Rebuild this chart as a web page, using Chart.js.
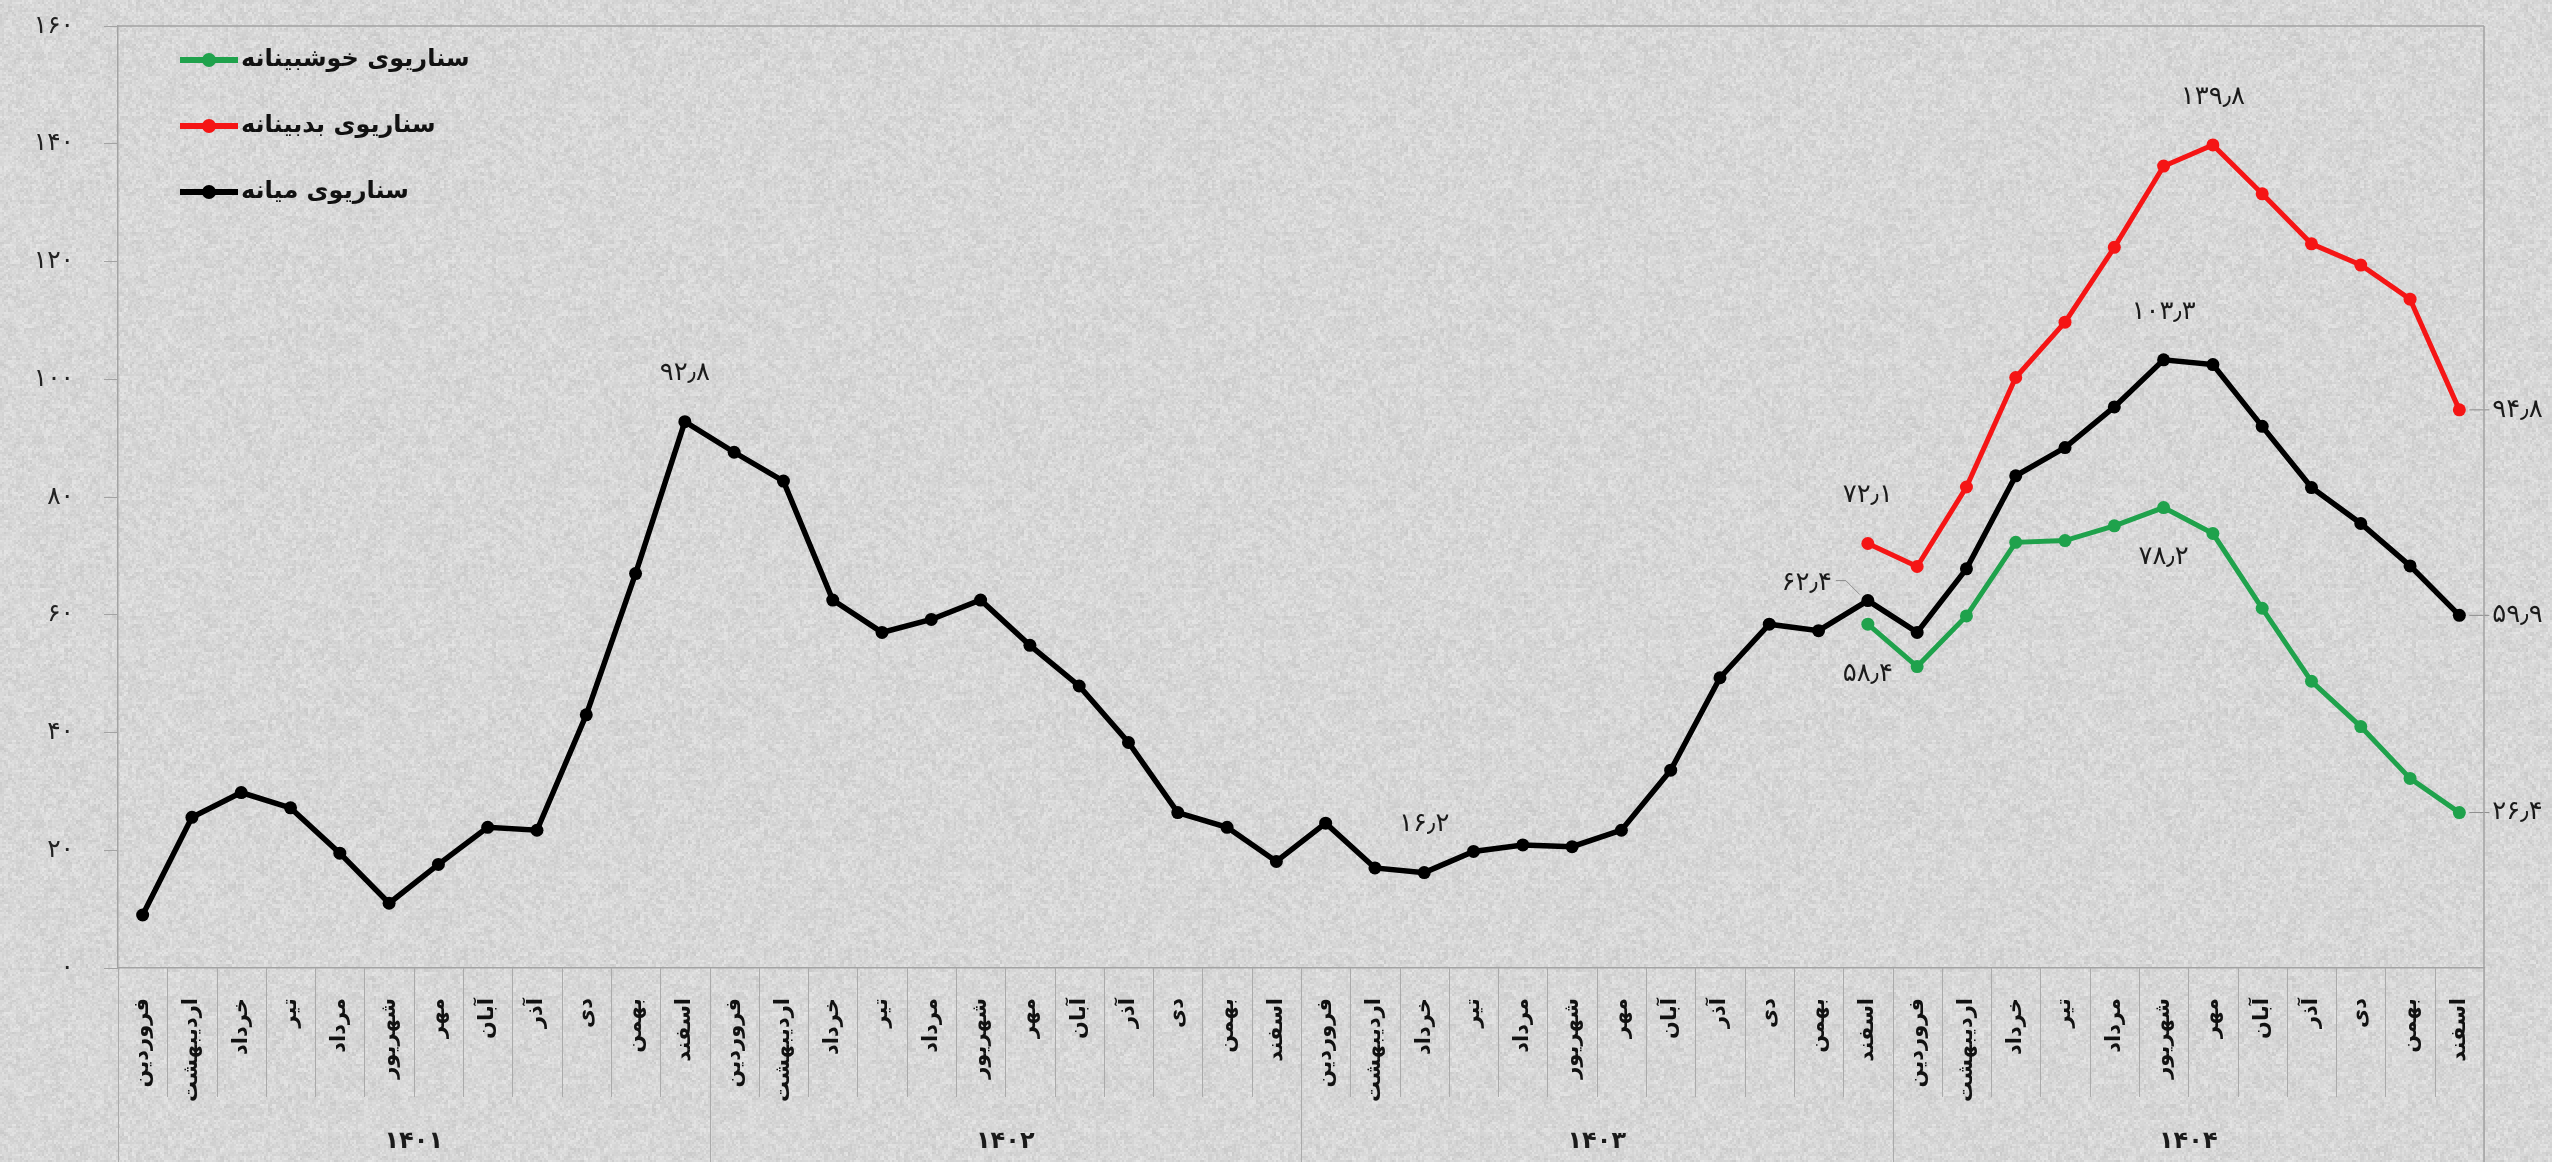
<!DOCTYPE html>
<html><head><meta charset="utf-8">
<style>html,body{margin:0;padding:0;background:#d6d6d6;overflow:hidden}
#wrap{width:2552px;height:1162px;position:relative}</style>
<script src="https://cdn.jsdelivr.net/npm/chart.js@4.4.1/dist/chart.umd.min.js"></script>
</head><body><div id="wrap"><canvas id="c" width="2552" height="1162"></canvas></div>
<script>
// ---------- data ----------
const months = ['فروردین','اردیبهشت','خرداد','تیر','مرداد','شهریور','مهر','آبان','آذر','دی','بهمن','اسفند'];
const years = ['۱۴۰۱','۱۴۰۲','۱۴۰۳','۱۴۰۴'];
const categories = years.flatMap(() => months);
const seriesNames = ['سناریوی خوشبینانه','سناریوی بدبینانه','سناریوی میانه'];
const yTickStep = 20, yMin = 0, yMax = 160;

const median = [9.0, 25.6, 29.8, 27.2, 19.5, 11.0, 17.6, 23.9, 23.4, 43.0, 67.0, 92.8,
  87.6, 82.7, 62.5, 57.0, 59.2, 62.5, 54.8, 47.9, 38.3, 26.4, 23.9, 18.1,
  24.6, 17.0, 16.2, 19.8, 20.9, 20.6, 23.4, 33.6, 49.3, 58.4, 57.3, 62.4,
  57.0, 67.8, 83.6, 88.4, 95.3, 103.3, 102.5, 92.0, 81.6, 75.5, 68.3, 59.9];
const optimistic = [null,null,null,null,null,null,null,null,null,null,null,null,
  null,null,null,null,null,null,null,null,null,null,null,null,
  null,null,null,null,null,null,null,null,null,null,null,58.4,
  51.2, 59.8, 72.3, 72.6, 75.1, 78.2, 73.8, 61.1, 48.7, 41.0, 32.2, 26.4];
const pessimistic = [null,null,null,null,null,null,null,null,null,null,null,null,
  null,null,null,null,null,null,null,null,null,null,null,null,
  null,null,null,null,null,null,null,null,null,null,null,72.1,
  68.2, 81.7, 100.3, 109.7, 122.4, 136.2, 139.8, 131.5, 123.0, 119.4, 113.6, 94.8];

// which points carry a value label (dataset index, point index, placement)
const callouts = [
  {ds:2, i:11, pos:'above'}, {ds:2, i:26, pos:'above'}, {ds:2, i:35, pos:'left'},
  {ds:0, i:35, pos:'below'}, {ds:1, i:35, pos:'above'}, {ds:1, i:42, pos:'above'},
  {ds:2, i:41, pos:'above'}, {ds:0, i:41, pos:'below'},
  {ds:1, i:47, pos:'right'}, {ds:2, i:47, pos:'right'}, {ds:0, i:47, pos:'right'}
];

// ---------- helpers ----------
const FA = '۰۱۲۳۴۵۶۷۸۹';
function fa(v, dec){
  const s = dec ? Number(v).toFixed(dec) : String(v);
  return s.replace(/\d/g, d => FA[d]).replace('.', '٫');
}
const FONT = 'DejaVu Sans';
Chart.defaults.font.family = FONT;

function makeTexture(){
  const t = document.createElement('canvas');
  t.width = 384; t.height = 384;
  const g = t.getContext('2d');
  const img = g.createImageData(384, 384);
  function h(a,b){ const x = Math.sin(a*127.1 + b*311.7)*43758.5453; return x - Math.floor(x); }
  for (let y=0; y<384; y++) for (let x=0; x<384; x++){
    const n = 0.55*h(x>>1, y>>1) + 0.45*h((x>>2)+97, (y>>2)+13);
    const v = Math.round(200 + n*30);
    const k = (y*384+x)*4;
    img.data[k]=v; img.data[k+1]=v; img.data[k+2]=v; img.data[k+3]=255;
  }
  g.putImageData(img,0,0);
  return t;
}
const texture = makeTexture();

const bgPlugin = {
  id:'bg',
  beforeDraw(chart){
    const ctx = chart.ctx;
    ctx.save();
    ctx.fillStyle = ctx.createPattern(texture, 'repeat');
    ctx.fillRect(0,0,chart.width,chart.height);
    ctx.restore();
  }
};

const framePlugin = {
  id:'frame',
  afterDraw(chart){
    const ctx = chart.ctx, a = chart.chartArea;
    const n = categories.length, w = (a.right - a.left)/n;
    ctx.save();
    ctx.strokeStyle = '#a3a3a3'; ctx.lineWidth = 1.5;
    ctx.beginPath();
    ctx.moveTo(a.left, a.top); ctx.lineTo(a.right, a.top);
    ctx.moveTo(a.right, a.top); ctx.lineTo(a.right, chart.height);
    ctx.stroke();
    ctx.lineWidth = 1;
    ctx.strokeStyle = '#aaaaaa';
    for (let k=0; k<=n; k++){
      const x = Math.round(a.left + k*w) + 0.5;
      ctx.beginPath();
      ctx.moveTo(x, a.bottom);
      ctx.lineTo(x, k % 12 === 0 ? chart.height : a.bottom + 129);
      ctx.stroke();
    }
    ctx.fillStyle = '#1a1a1a';
    ctx.font = 'bold 24px "' + FONT + '"';
    ctx.textAlign = 'center'; ctx.textBaseline = 'middle';
    years.forEach((yr, j) => {
      const x = a.left + (j*12 + 6)*w;
      ctx.fillText(yr, x, 1142);
    });
    ctx.restore();
  }
};

const legendPlugin = {
  id:'customLegend',
  afterDraw(chart){
    const ctx = chart.ctx;
    ctx.save();
    chart.data.datasets.forEach((ds, j) => {
      const y = 60 + j*66;
      ctx.strokeStyle = ds.borderColor; ctx.lineWidth = 6;
      ctx.beginPath(); ctx.moveTo(180, y); ctx.lineTo(238, y); ctx.stroke();
      ctx.fillStyle = ds.borderColor;
      ctx.beginPath(); ctx.arc(209, y, 7, 0, Math.PI*2); ctx.fill();
      ctx.fillStyle = '#111';
      ctx.font = 'bold 24px "' + FONT + '"';
      ctx.textAlign = 'left'; ctx.textBaseline = 'middle';
      ctx.fillText(ds.label, 241, y);
    });
    ctx.restore();
  }
};

const calloutPlugin = {
  id:'callouts',
  afterDatasetsDraw(chart){
    const ctx = chart.ctx;
    ctx.save();
    ctx.font = '26px "' + FONT + '"';
    ctx.fillStyle = '#1a1a1a';
    ctx.textBaseline = 'middle';
    callouts.forEach(c => {
      const pt = chart.getDatasetMeta(c.ds).data[c.i];
      const v = chart.data.datasets[c.ds].data[c.i];
      const txt = fa(v, 1);
      let x = pt.x, y = pt.y;
      ctx.strokeStyle = '#8a8a8a'; ctx.lineWidth = 1;
      if (c.pos === 'above'){ ctx.textAlign='center'; ctx.fillText(txt, x, y - 48); }
      else if (c.pos === 'below'){ ctx.textAlign='center'; ctx.fillText(txt, x, y + 50); }
      else if (c.pos === 'right'){
        ctx.beginPath(); ctx.moveTo(x + 10, y); ctx.lineTo(x + 30, y); ctx.stroke();
        ctx.textAlign='left'; ctx.fillText(txt, x + 33, y);
      } else if (c.pos === 'left'){
        ctx.beginPath(); ctx.moveTo(x - 8, y - 6); ctx.lineTo(x - 22, y - 20); ctx.lineTo(x - 32, y - 20); ctx.stroke();
        ctx.textAlign='right'; ctx.fillText(txt, x - 36, y - 17);
      }
    });
    ctx.restore();
  }
};

const colors = {green:'#1fa24c', red:'#f51515', black:'#000000'};
function ds(label, data, color, width){
  return {label, data, borderColor:color, backgroundColor:color, borderWidth:width,
    pointRadius:6.5, pointHoverRadius:6.5, pointBackgroundColor:color, pointBorderColor:color,
    pointBorderWidth:0, tension:0, spanGaps:false};
}

new Chart(document.getElementById('c'), {
  type:'line',
  data:{
    labels: categories,
    datasets:[
      ds(seriesNames[0], optimistic, colors.green, 5),
      ds(seriesNames[1], pessimistic, colors.red, 5),
      ds(seriesNames[2], median, colors.black, 5.5)
    ]
  },
  options:{
    responsive:false, animation:false, devicePixelRatio:1, events:[],
    layout:{padding:{top:26, right:68, left:0, bottom:0}},
    plugins:{legend:{display:false}, tooltip:{enabled:false}},
    scales:{
      x:{
        type:'category', offset:true,
        grid:{display:false},
        border:{display:true, color:'#a3a3a3', width:1.5},
        ticks:{autoSkip:false, maxRotation:90, minRotation:90, padding:22,
               color:'#111', font:{family:FONT, size:21, weight:'bold'}},
        afterFit(s){ s.height = 194; s.paddingLeft = 0; s.paddingRight = 0; }
      },
      y:{
        min:yMin, max:yMax,
        grid:{drawOnChartArea:false, drawTicks:true, tickLength:14, color:'#a3a3a3'},
        border:{display:true, color:'#a3a3a3', width:1.5},
        ticks:{stepSize:yTickStep, padding:30, color:'#222', font:{family:FONT, size:25},
               callback:(v) => fa(v)},
        afterFit(s){ s.width = 118; s.paddingTop = 12; s.paddingBottom = 12; }
      }
    }
  },
  plugins:[bgPlugin, framePlugin, calloutPlugin, legendPlugin]
});
</script></body></html>
